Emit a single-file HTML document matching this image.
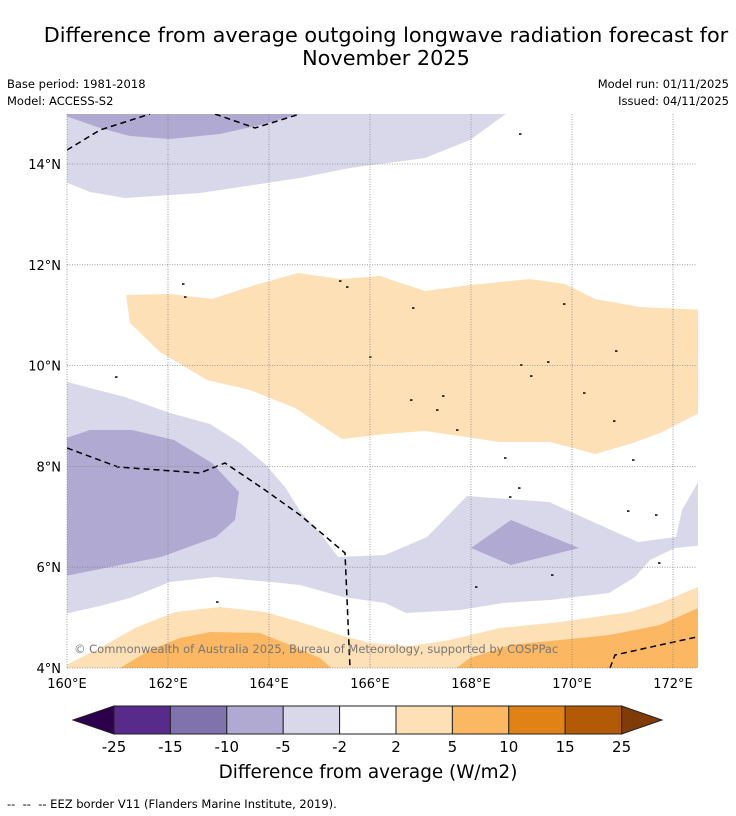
<!DOCTYPE html>
<html><head><meta charset="utf-8">
<style>
body{margin:0;background:#fff;font-family:"Liberation Sans",sans-serif;}
#wrap{position:relative;width:736px;height:816px;overflow:hidden;}
svg text{font-family:"DejaVu Sans","Liberation Sans",sans-serif;}
</style></head>
<body>
<div id="wrap">
<svg id="svg" width="736" height="816" xmlns="http://www.w3.org/2000/svg">
<text x="386" y="42" text-anchor="middle" font-size="20.8" fill="#000">Difference from average outgoing longwave radiation forecast for</text>
<text x="386" y="65" text-anchor="middle" font-size="20.8" fill="#000">November 2025</text>
<text x="7" y="88" font-size="11.5">Base period: 1981-2018</text>
<text x="7" y="105" font-size="11.5">Model: ACCESS-S2</text>
<text x="729" y="88" font-size="11.5" text-anchor="end">Model run: 01/11/2025</text>
<text x="729" y="105" font-size="11.5" text-anchor="end">Issued: 04/11/2025</text>
<defs><clipPath id="mapclip"><rect x="67" y="114" width="631" height="554"/></clipPath></defs>
<g id="map" clip-path="url(#mapclip)"></g>
<g id="grid"></g>
<g id="axes"></g>
<text x="74" y="653" font-size="11.5" fill="#777">© Commonwealth of Australia 2025, Bureau of Meteorology, supported by COSPPac</text>
<g id="cbar"></g>
<text x="368" y="778" text-anchor="middle" font-size="18.4">Difference from average (W/m2)</text>
<text x="7" y="808" font-size="11.5" xml:space="preserve">--  --  -- EEZ border V11 (Flanders Marine Institute, 2019).</text>
</svg>
</div>
<script>
const lonTicks=[160,162,164,166,168,170,172];
const latTicks=[4,6,8,10,12,14];
const cbLevels=["-25","-15","-10","-5","-2","2","5","10","15","25"];
const cbColors=["#582a8c","#8073ad","#b0a9d1","#d8d8ea","#ffffff","#fde0b6","#fbb762","#e08215","#b35a06"];
const cbExtLow="#2d004b", cbExtHigh="#7f3b08";
function P(pts){return pts.map(p=>[160+(p[0]-67)/50.5,4+(668-p[1])/50.4]);}
const regionLav1=P([[60,100],[525,100],[470,140],[425,158],[350,168],[300,178],[200,193],[125,198],[90,192],[60,180]]);
const regionPur1=P([[60,100],[310,100],[300,114],[260,125],[220,134],[170,139],[130,136],[100,128],[60,114]]);
const regionOrg1=P([[126,295],[170,294],[212,299],[255,285],[298,273],[340,279],[380,276],[425,291],[470,285],[530,279],[565,284],[595,299],[640,307],[705,310],[705,410],[660,433],[630,444],[595,454],[550,442],[500,442],[425,431],[385,434],[342,439],[295,408],[250,390],[207,380],[160,352],[130,323]]);
const regionLav2=P([[60,380],[90,388],[125,397],[170,413],[210,424],[240,443],[265,464],[285,487],[300,511],[320,533],[338,557],[385,555],[427,537],[467,496],[549,502],[600,525],[638,542],[676,537],[682,510],[705,470],[705,545],[675,548],[650,560],[635,577],[609,593],[550,600],[503,603],[460,610],[406,613],[385,603],[343,597],[300,585],[271,582],[215,577],[170,582],[130,598],[100,606],[60,615]]);
const regionPur2=P([[60,440],[90,430],[132,430],[174,440],[212,463],[239,492],[235,520],[216,537],[161,557],[60,577]]);
const regionPur3=P([[471,548],[511,520],[579,548],[511,565]]);
const regionOrg2=P([[60,668],[100,648],[135,628],[175,612],[220,607],[265,612],[300,622],[340,635],[370,643],[410,646],[450,640],[500,628],[560,622],[630,612],[660,603],[705,584],[705,680],[60,680]]);
const regionOrg3a=P([[120,680],[120,668],[150,650],[180,638],[210,632],[260,633],[290,645],[320,658],[345,680]]);
const regionOrg3b=P([[440,680],[470,658],[510,645],[560,640],[610,635],[660,625],[705,605],[705,680]]);
const eez1=P([[67,150],[100,130],[150,114]]);
const eez2=P([[215,114],[255,128],[300,114]]);
const eez3=P([[67,448],[118,467],[200,473],[225,463],[265,490],[300,515],[345,553],[350,668]]);
const eez4=P([[610,668],[615,655],[660,645],[697,637]]);
const islands=P([[183,284],[185,297],[116,377],[340,281],[347,287],[370,357],[413,308],[411,400],[437,410],[443,396],[457,430],[520,134],[564,304],[584,393],[614,421],[616,351],[505,458],[519,488],[510,497],[552,575],[476,587],[628,511],[656,515],[659,563],[217,602],[521,365],[548,362],[531,376],[633,460]]);

const NS="http://www.w3.org/2000/svg";
const x0=67,pxLon=50.5,y0=668,pxLat=50.4;
function xS(lon){return x0+(lon-160)*pxLon;}
function yS(lat){return y0-(lat-4)*pxLat;}
function pts(arr){return arr.map(p=>xS(p[0]).toFixed(1)+","+yS(p[1]).toFixed(1)).join(" ");}
const map=document.getElementById('map');
function poly(arr,fill,name){const e=document.createElementNS(NS,'polygon');e.setAttribute('points',pts(arr));e.setAttribute('fill',fill);


map.appendChild(e);}
poly(regionLav1,cbColors[3],'contour-lav-north');
poly(regionPur1,cbColors[2],'contour-purple-north');
poly(regionOrg1,cbColors[5],'contour-orange-central');
poly(regionLav2,cbColors[3],'contour-lav-central');
poly(regionPur2,cbColors[2],'contour-purple-west');
poly(regionPur3,cbColors[2],'contour-purple-east');
poly(regionOrg2,cbColors[5],'contour-orange-south');
poly(regionOrg3a,cbColors[6],'contour-orange2-southwest');
poly(regionOrg3b,cbColors[6],'contour-orange2-southeast');
function line(arr,name){const e=document.createElementNS(NS,'polyline');e.setAttribute('points',pts(arr));e.setAttribute('fill','none');e.setAttribute('stroke','#000');e.setAttribute('stroke-width','1.5');e.setAttribute('stroke-dasharray','6,4');


map.appendChild(e);}
line(eez1,'eez-border');line(eez2,'eez-border');line(eez3,'eez-border');line(eez4,'eez-border');
islands.forEach(p=>{const e=document.createElementNS(NS,'rect');e.setAttribute('x',xS(p[0])-1);e.setAttribute('y',yS(p[1])-0.7);e.setAttribute('width',2.5);e.setAttribute('height',1.5);e.setAttribute('fill','#000');


map.appendChild(e);});

const grid=document.getElementById('grid'),axes=document.getElementById('axes');
lonTicks.forEach(l=>{const g=document.createElementNS(NS,'line');g.setAttribute('x1',xS(l));g.setAttribute('x2',xS(l));g.setAttribute('y1',114);g.setAttribute('y2',668);g.setAttribute('stroke','#888');g.setAttribute('stroke-width','0.8');g.setAttribute('stroke-dasharray','1,1.5');


grid.appendChild(g);
const t=document.createElementNS(NS,'text');t.setAttribute('x',xS(l));t.setAttribute('y',688);t.setAttribute('text-anchor','middle');t.setAttribute('font-size','13');t.textContent=l+'°E';


axes.appendChild(t);});
latTicks.forEach(l=>{const g=document.createElementNS(NS,'line');g.setAttribute('x1',67);g.setAttribute('x2',697);g.setAttribute('y1',yS(l));g.setAttribute('y2',yS(l));g.setAttribute('stroke','#888');g.setAttribute('stroke-width','0.8');g.setAttribute('stroke-dasharray','1,1.5');


grid.appendChild(g);
const t=document.createElementNS(NS,'text');t.setAttribute('x',61);t.setAttribute('y',yS(l)+5);t.setAttribute('text-anchor','end');t.setAttribute('font-size','13');t.textContent=l+'°N';


axes.appendChild(t);});

const cb=document.getElementById('cbar');
const cbX=114,cbW=56.4,cbY=706,cbH=28;
function cbEl(tag,attrs,name){const e=document.createElementNS(NS,tag);for(const k in attrs)e.setAttribute(k,attrs[k]);


cb.appendChild(e);return e;}
cbEl('polygon',{points:`${cbX},${cbY} 73,${cbY+cbH/2} ${cbX},${cbY+cbH}`,fill:cbExtLow,stroke:'#222','stroke-width':1},'colorbar-extend-low');
const xe=cbX+cbW*cbColors.length;
cbEl('polygon',{points:`${xe},${cbY} 662,${cbY+cbH/2} ${xe},${cbY+cbH}`,fill:cbExtHigh,stroke:'#222','stroke-width':1},'colorbar-extend-high');
cbColors.forEach((c,i)=>{cbEl('rect',{x:cbX+i*cbW,y:cbY,width:cbW,height:cbH,fill:c,stroke:'#222','stroke-width':1},'colorbar-box');});
cbLevels.forEach((l,i)=>{const t=cbEl('text',{x:cbX+i*cbW,y:752,'text-anchor':'middle','font-size':15},'colorbar-tick-label');t.textContent=l;});
</script>
</body></html>
